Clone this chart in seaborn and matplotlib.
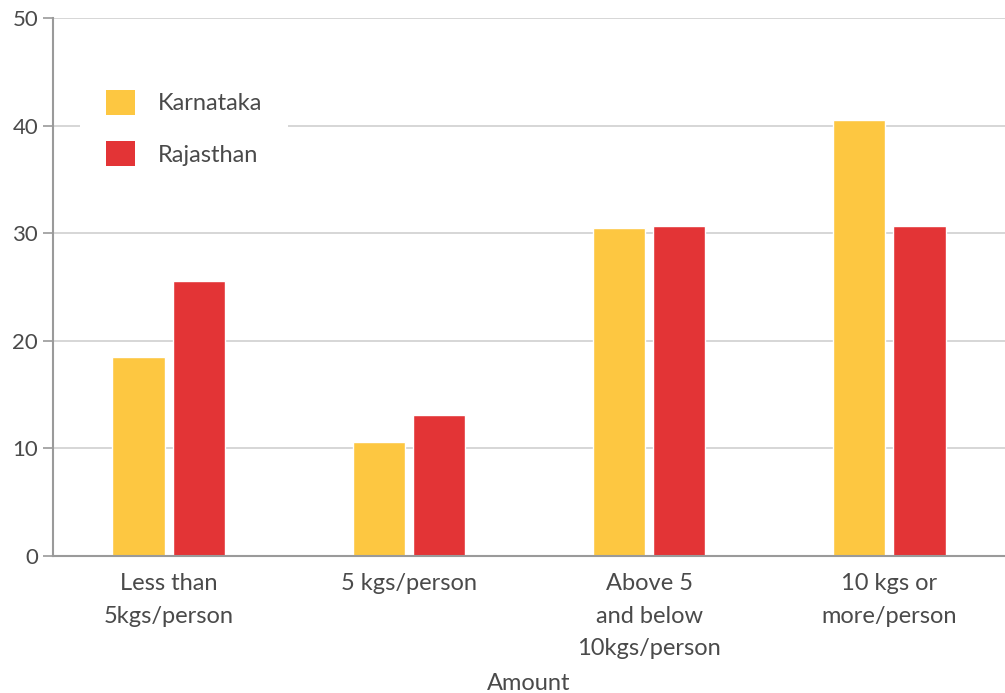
import matplotlib
matplotlib.use("Agg")
import matplotlib.pyplot as plt
from matplotlib.patches import Patch
import seaborn as sns
import pandas as pd

categories = ["Less than\n5kgs/person", "5 kgs/person", "Above 5\nand below\n10kgs/person", "10 kgs or\nmore/person"]
karnataka = [18.5, 10.6, 30.5, 40.5]
rajasthan = [25.6, 13.1, 30.7, 30.7]
series_names = ["Karnataka", "Rajasthan"]
colors = ["#FDC741", "#E33436"]
y_ticks = [0, 10, 20, 30, 40, 50]

sns.set_theme(style="white")
plt.rcParams["font.family"] = ["Lato", "DejaVu Sans"]
text_col = "#4a4a4a"

df = pd.DataFrame({
    "Amount": categories * 2,
    "value": karnataka + rajasthan,
    "State": [series_names[0]] * 4 + [series_names[1]] * 4,
})

fig = plt.figure(figsize=(10.05, 6.93), dpi=100)
ax = fig.add_axes([53 / 1005, (693 - 556) / 693, (1005 - 53) / 1005, (556 - 18) / 693])

sns.barplot(data=df, x="Amount", y="value", hue="State", palette=colors,
            width=0.504, gap=0.133, legend=False, ax=ax, saturation=1)

ax.set_ylim(0, 50)
ax.set_xlim(-0.483, 3.483)
ax.set_yticks(y_ticks)
ax.set_yticklabels([str(v) for v in y_ticks])
ax.set_axisbelow(True)
ax.yaxis.grid(True, color="#cccccc", linewidth=1.1)
ax.xaxis.grid(False)

for s in ["top", "right"]:
    ax.spines[s].set_visible(False)
ax.spines["left"].set_color("#9a9a9a")
ax.spines["left"].set_linewidth(1.5)
ax.spines["bottom"].set_color("#9a9a9a")
ax.spines["bottom"].set_linewidth(1.5)

ax.tick_params(axis="y", which="major", left=True, length=7.2, width=1.2, color="#9a9a9a",
               pad=3.5, labelsize=16, labelcolor=text_col)
ax.tick_params(axis="x", which="major", bottom=False, length=0, pad=12.5,
               labelsize=17, labelcolor=text_col)
for lbl in ax.get_xticklabels():
    lbl.set_linespacing(1.66)

ax.set_ylabel("")
ax.set_xlabel("Amount", fontsize=17, color=text_col, labelpad=10.5)

handles = [Patch(facecolor=c, edgecolor="none") for c in colors]
leg = ax.legend(handles, series_names, loc="upper left",
                bbox_to_anchor=((80 - 53) / 952, (556 - 64) / 538),
                frameon=True, fancybox=False, framealpha=1, edgecolor="white",
                facecolor="white", fontsize=17, handlelength=1.25, handleheight=1.25,
                handletextpad=0.95, labelspacing=1.12, borderpad=1.1, borderaxespad=0)
for t in leg.get_texts():
    t.set_color(text_col)
leg.get_frame().set_linewidth(0)

fig.savefig("out.png", dpi=100)
